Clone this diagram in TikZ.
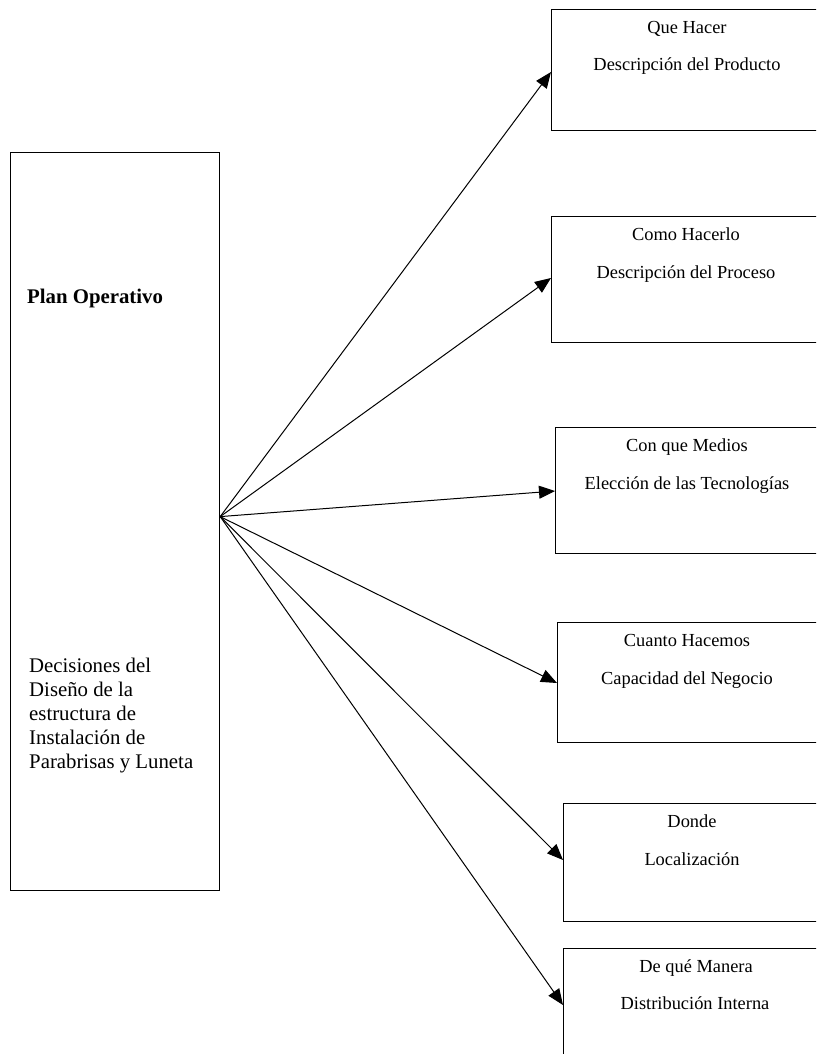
\documentclass[tikz,border=0pt]{standalone}
\usepackage{fontspec}
\setmainfont{Liberation Serif}
\usetikzlibrary{arrows.meta,calc}
\begin{document}
\begin{tikzpicture}[x=1pt,y=-1pt,
  box/.style={draw=black,line width=1.2pt,rectangle,inner sep=0pt,anchor=north west},
  lefttxt/.style={font=\fontsize{20.8}{24}\selectfont,align=left,anchor=west,inner sep=0pt},
  boxtxt/.style={font=\fontsize{18.4}{22}\selectfont,inner sep=0pt,text height=0.7em,text depth=0.2em},
  conn/.style={line width=1pt,-{Triangle[length=16pt,width=13pt]}}]
\useasboundingbox (0,0) rectangle (816,1054);
\begin{scope}
\clip (0,0) rectangle (816,1054);
% main block on the left
\node[box,minimum width=209pt,minimum height=738pt] (plan) at (10,152) {};
\node[lefttxt,font=\fontsize{20.8}{24}\selectfont\bfseries] (title) at (27,298) {Plan Operativo};
\node[lefttxt] (desc) at (29,716) {Decisiones del\\Diseño de la\\estructura de\\Instalación de\\Parabrisas y Luneta};
% decision blocks on the right (they run off the right edge)
\node[box,minimum width=279pt,minimum height=121pt] (b1) at (551,9) {};
\node[box,minimum width=279pt,minimum height=126pt] (b2) at (551,216) {};
\node[box,minimum width=275pt,minimum height=126pt] (b3) at (555,427) {};
\node[box,minimum width=273pt,minimum height=120pt] (b4) at (557,622) {};
\node[box,minimum width=267pt,minimum height=118pt] (b5) at (563,803) {};
\node[box,minimum width=267pt,minimum height=130pt] (b6) at (563,948) {};
% block texts
\node[boxtxt] (b1a) at (687,31) {Que Hacer};
\node[boxtxt] (b1b) at (687,68) {Descripción del Producto};
\node[boxtxt] (b2a) at (686,238) {Como Hacerlo};
\node[boxtxt] (b2b) at (686,276) {Descripción del Proceso};
\node[boxtxt] (b3a) at (687,449) {Con que Medios};
\node[boxtxt] (b3b) at (687,487) {Elección de las Tecnologías};
\node[boxtxt] (b4a) at (687,644) {Cuanto Hacemos};
\node[boxtxt] (b4b) at (687,682) {Capacidad del Negocio};
\node[boxtxt] (b5a) at (692,825) {Donde};
\node[boxtxt] (b5b) at (692,863) {Localización};
\node[boxtxt] (b6a) at (696,970) {De qué Manera};
\node[boxtxt] (b6b) at (695,1007) {Distribución Interna};
% fan of arrows from the main block
\coordinate (src) at ([yshift=5pt]plan.east);
\draw[conn] (src) -- ([yshift=-63pt]b1.north west);
\draw[conn] (src) -- ([yshift=-62pt]b2.north west);
\draw[conn] (src) -- ([yshift=-64pt]b3.north west);
\draw[conn] (src) -- ([yshift=-61pt]b4.north west);
\draw[conn] (src) -- ([yshift=-57pt]b5.north west);
\draw[conn] (src) -- ([yshift=-57pt]b6.north west);
\end{scope}
\end{tikzpicture}
\end{document}
